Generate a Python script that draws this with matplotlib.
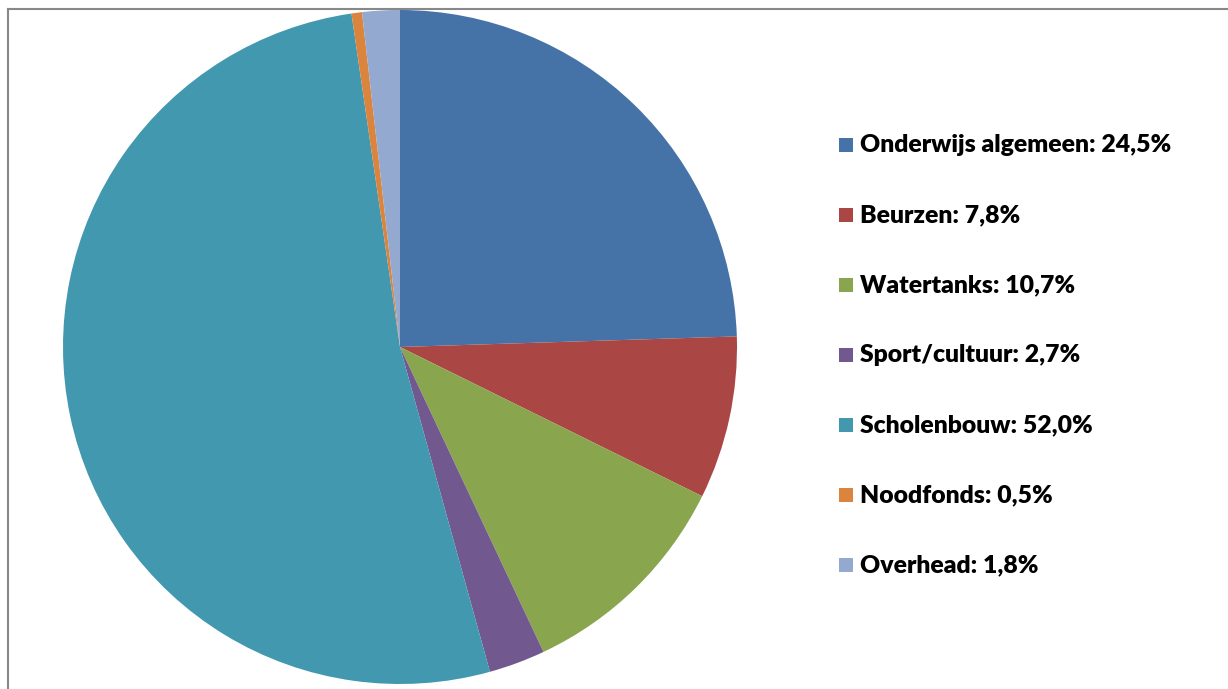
import matplotlib.pyplot as plt
from matplotlib.patches import Rectangle
from matplotlib.lines import Line2D

labels = ['Onderwijs algemeen', 'Beurzen', 'Watertanks', 'Sport/cultuur',
          'Scholenbouw', 'Noodfonds', 'Overhead']
values = [24.5, 7.8, 10.7, 2.7, 52.0, 0.5, 1.8]
colors = ['#4572A7', '#AA4643', '#89A54E', '#71588F', '#4198AF', '#DB843D', '#93A9CF']

W, H = 1228, 689
fig = plt.figure(figsize=(W / 100, H / 100), dpi=100)

# pie centre (400, 347) px, radius 337 px
cx, cy, r = 400, 347, 337
ax = fig.add_axes([(cx - r) / W, (H - cy - r) / H, 2 * r / W, 2 * r / H])
ax.pie(values, colors=colors, startangle=90, counterclock=False, radius=1,
       wedgeprops=dict(linewidth=0))
ax.set_xlim(-1, 1)
ax.set_ylim(-1, 1)
ax.set_aspect('equal')
ax.axis('off')

# outer frame (only top and left visible)
fig.add_artist(Line2D([7.5 / W, 7.5 / W], [0, (H - 9) / H], transform=fig.transFigure,
                      color='#888888', lw=1.5))
fig.add_artist(Line2D([7.5 / W, 1], [(H - 9) / H, (H - 9) / H], transform=fig.transFigure,
                      color='#888888', lw=1.5))

# legend
y0, dy = 145, 70
for i, (lab, val) in enumerate(zip(labels, values)):
    y = y0 + i * dy
    fig.add_artist(Rectangle((839 / W, (H - y - 7) / H), 14 / W, 14 / H,
                             transform=fig.transFigure, color=colors[i], lw=0))
    txt = f'{lab}: {val:.1f}%'.replace('.', ',')
    fig.text(860 / W, (H - y) / H, txt, fontsize=17.8, fontweight='heavy',
             family='Lato', va='center', ha='left', color='black')

fig.savefig('out.png', dpi=100)
